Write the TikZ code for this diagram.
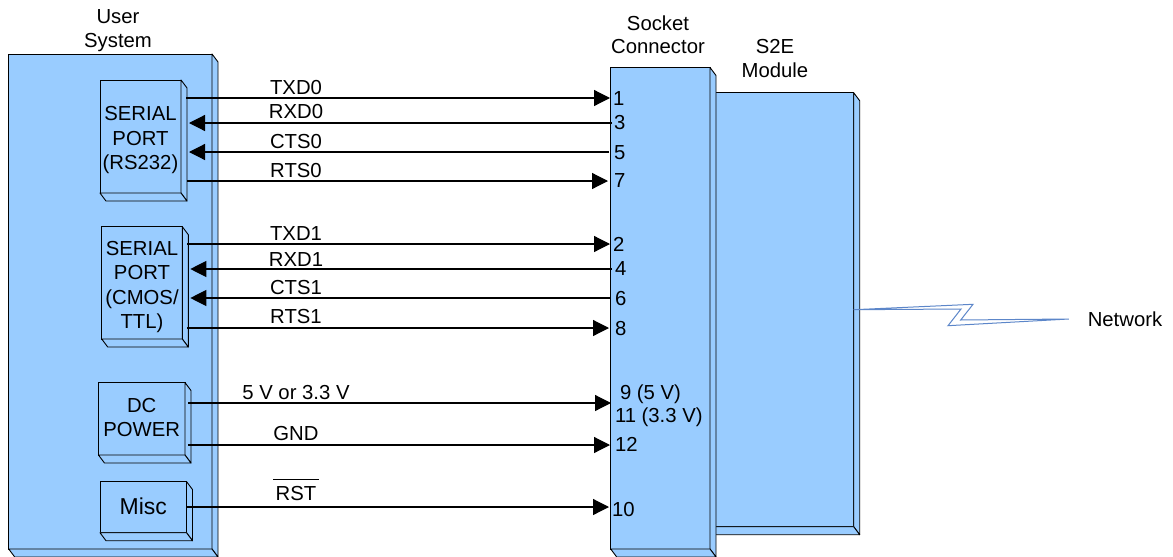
\documentclass[tikz,border=0pt]{standalone}
\usepackage{fontspec}
\setmainfont{Liberation Sans}
\usetikzlibrary{arrows.meta}
\definecolor{boxblue}{HTML}{99CCFF}
\definecolor{netblue}{HTML}{5C86C9}
\newcommand{\sidefaces}[1]{%
  \draw[faceline] (#1.north east) -- ++(6,8) -- ([shift={(6,8)}]#1.south east) -- (#1.south east) -- cycle;
  \draw[faceline] (#1.south west) -- ++(6,8) -- ([shift={(6,8)}]#1.south east) -- (#1.south east) -- cycle;
}
\tikzset{
  every node/.style={font=\fontsize{20.3}{24.5}\selectfont,inner sep=0pt,outer sep=0pt},
  faceline/.style={draw=black,fill=boxblue,line width=0.9pt,line join=round},
  blockbox/.style={draw=black,fill=boxblue,line width=0.9pt,align=center},
  title/.style={align=center,font=\fontsize{20.3}{23.5}\selectfont},
  siglabel/.style={anchor=base},
  pinlabel/.style={anchor=base west},
  sigline/.style={line width=1.2pt,-{Triangle[length=16pt,width=16pt]}},
  netline/.style={draw=netblue,fill=white,line width=1pt,line join=miter}
}
\begin{document}
\begin{tikzpicture}[x=1pt,y=-1pt]
  \useasboundingbox (0,0) rectangle (1173,557);
  % module sits behind the socket
  \node[blockbox,minimum width=147.7pt,minimum height=434pt] (s2e) at (779.85,309.7) {};
  \sidefaces{s2e}
  \node[blockbox,minimum width=99.3pt,minimum height=481.5pt] (sock) at (660.35,308.25) {};
  \node[blockbox,minimum width=203.3pt,minimum height=495pt] (user) at (110.35,301.5) {};
  \node[blockbox,minimum width=81pt,minimum height=113pt] (serA) at (140.5,136.5) {\rule{0pt}{22pt}SERIAL\\PORT\\(RS232)};
  \node[blockbox,minimum width=80.6pt,minimum height=112.3pt] (serB) at (142,282.85) {\rule{0pt}{22pt}SERIAL\\PORT\\(CMOS/\\TTL)};
  \node[blockbox,minimum width=86.5pt,minimum height=72.5pt] (dc) at (141.75,418.75) {DC\\POWER\rule[-3pt]{0pt}{1pt}};
  \node[blockbox,minimum width=86.5pt,minimum height=51.2pt,font=\fontsize{23}{26}\selectfont] (misc) at (143.25,507.1) {Misc\rule[-2pt]{0pt}{1pt}};
  \foreach \nm in {sock,user,serA,serB,dc,misc} {
    \sidefaces{\nm}
  }

  \node[title] (usertitle) at (118,30.5) {User\\System};
  \node[title] (socktitle) at (658,34.5) {Socket\\Connector};
  \node[title] (s2etitle) at (775,58.5) {S2E\\Module};
  \node (net) at (1125,319) {Network};

  % socket side ends
  \coordinate (s1) at (610,98);
  \coordinate (s3) at (612,123);
  \coordinate (s5) at (609,152);
  \coordinate (s7) at (608,181);
  \coordinate (s2) at (610,244);
  \coordinate (s4) at (612,269);
  \coordinate (s6) at (610,298);
  \coordinate (s8) at (609,328);
  \coordinate (s9) at (611,403);
  \coordinate (s12) at (610,445);
  \coordinate (s10) at (609,507);

  \begin{scope}
    \draw[sigline] ([xshift=5pt]serA.east |- s1) to (s1);
    \draw[sigline] (s3) to ([xshift=8pt]serA.east |- s3);
    \draw[sigline] (s5) to ([xshift=8pt]serA.east |- s5);
    \draw[sigline] ([xshift=6pt]serA.east |- s7) to (s7);
    \draw[sigline] ([xshift=5pt]serB.east |- s2) to (s2);
    \draw[sigline] (s4) to ([xshift=8pt]serB.east |- s4);
    \draw[sigline] (s6) to ([xshift=8pt]serB.east |- s6);
    \draw[sigline] ([xshift=5pt]serB.east |- s8) to (s8);
    \draw[sigline] ([xshift=3pt]dc.east |- s9) to (s9);
    \draw[sigline] ([xshift=3pt]dc.east |- s12) to (s12);
    \draw[sigline] (misc.east |- s10) to (s10);
  \end{scope}

  \node[siglabel] (txd0) at (296,94) {TXD0};
  \node[siglabel] (rxd0) at (296,118) {RXD0};
  \node[siglabel] (cts0) at (296,148) {CTS0};
  \node[siglabel] (rts0) at (296,177) {RTS0};
  \node[siglabel] (txd1) at (296,240) {TXD1};
  \node[siglabel] (rxd1) at (296,266) {RXD1};
  \node[siglabel] (cts1) at (296,294) {CTS1};
  \node[siglabel] (rts1) at (296,323) {RTS1};
  \node[siglabel] (vin) at (296,399) {5 V or 3.3 V};
  \node[siglabel] (gnd) at (296,440) {GND};
  \node[siglabel] (rst) at (296,500) {$\overline{\rule{0pt}{19pt}\mbox{\kern2.5pt RST\kern2.5pt}}$};

  \node[pinlabel] (p1) at (613,105) {1};
  \node[pinlabel] (p3) at (614,129) {3};
  \node[pinlabel] (p5) at (614,159) {5};
  \node[pinlabel] (p7) at (614,187) {7};
  \node[pinlabel] (p2) at (613,251) {2};
  \node[pinlabel] (p4) at (615,275) {4};
  \node[pinlabel] (p6) at (615,305) {6};
  \node[pinlabel] (p8) at (615,335) {8};
  \node[pinlabel] (p9) at (620,399) {9 (5 V)};
  \node[pinlabel] (p11) at (615,422) {11 (3.3 V)};
  \node[pinlabel] (p12) at (615,451) {12};
  \node[pinlabel] (p10) at (612,516) {10};

  \coordinate (netend) at ([xshift=-19pt]net.west);
  \draw[netline] (s2e.east) -- (973,304.3) -- (960.7,320) -- (netend) -- (948,325.7) -- (961,309) -- cycle;
\end{tikzpicture}
\end{document}
